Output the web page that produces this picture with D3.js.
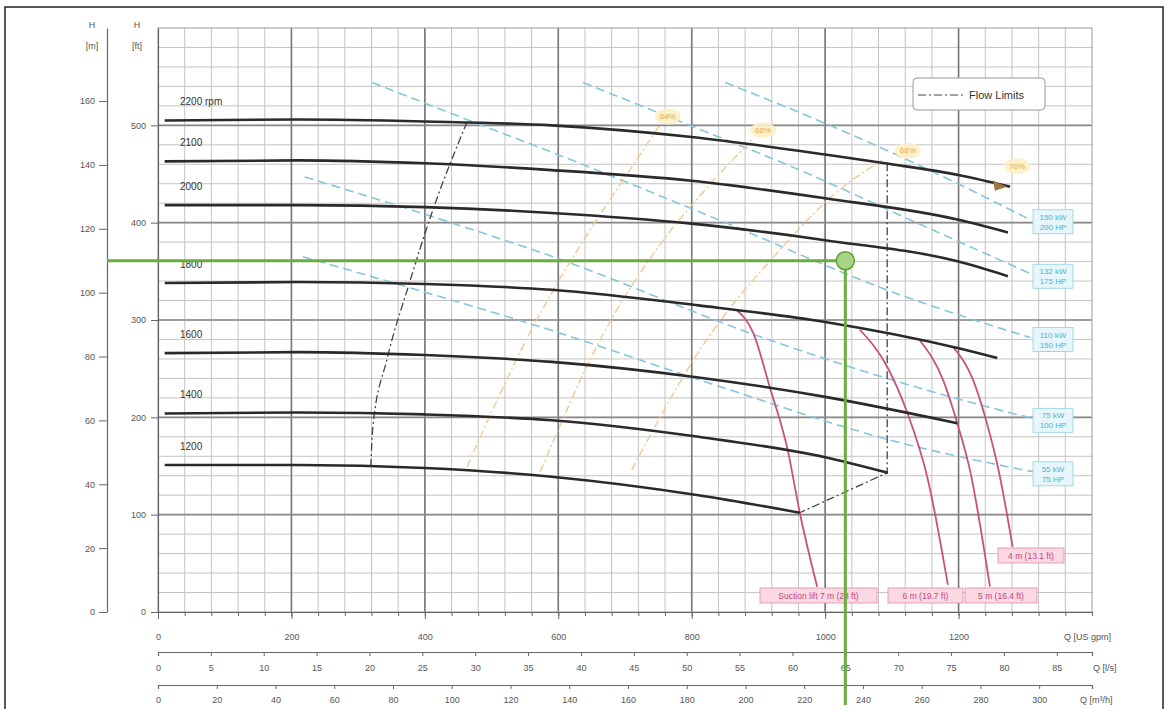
<!doctype html>
<html>
<head>
<meta charset="utf-8">
<title>Pump curves</title>
<script src="https://cdnjs.cloudflare.com/ajax/libs/d3/7.8.5/d3.min.js"></script>
<style>
  body { margin: 0; background: #fff; }
  svg { font-family: "Liberation Sans", Arial, sans-serif; }
  .tick text { fill: #555; font-size: 9px; }
</style>
</head>
<body>
<div id="chart"></div>
<script>
// ---- data (Q in US gpm, H in ft) ----
const speedLabels = ["2200 rpm", "2100", "2000", "1800", "1600", "1400", "1200"];
const curve2200 = [[10,505],[210,506],[400,504],[590,500],[800,488],[1000,470],[1090,461],[1200,449],[1277,437]];
const curve2100 = [[10,463],[210,464],[400,461],[590,454],[800,443],[1000,425],[1200,403],[1274,390]];
const curve2000 = [[10,418],[210,418],[400,416],[590,410],[800,399],[1000,382],[1200,360],[1274,345]];
const curve1800 = [[10,338],[210,339],[400,337],[590,331],[810,315],[1000,298],[1200,271],[1258,261]];
const curve1600 = [[10,266],[210,267],[400,264],[590,257],[810,241],[1000,221],[1198,194]];
const curve1400 = [[10,204],[210,205],[400,203],[590,197],[810,180],[1000,159],[1094,143]];
const curve1200 = [[10,151],[210,151],[400,148],[590,139],[810,120],[962,102]];

// suction lift (NPSH) curves
const liftLabels = ["Suction lift 7 m (23 ft)", "6 m (19.7 ft)", "5 m (16.4 ft)", "4 m (13.1 ft)"];
const lift7 = [[868,310],[892,287],[917,231],[944,166],[962,102],[988,26]];
const lift6 = [[1052,290],[1093,252],[1123,205],[1153,139],[1184,28]];
const lift5 = [[1142,279],[1177,238],[1198,194],[1217,146],[1247,26]];
const lift4 = [[1192,272],[1222,238],[1240,200],[1262,139],[1281,67]];

// motor power lines
const powerLabels = [["150 kW","200 HP"],["132 kW","175 HP"],["110 kW","150 HP"],["75 kW","100 HP"],["55 kW","75 HP"]];
const power1 = [[850,544],[962,513],[1090,475],[1202,439],[1307,403]];
const power2 = [[637,544],[797,500],[962,454],[1127,403],[1310,347]];
const power3 = [[321,544],[463,506],[588,473],[812,411],[1112,326],[1307,282]];
const power4 = [[220,447],[412,406],[588,366],[902,283],[1162,226],[1310,199]];
const power5 = [[217,365],[388,331],[573,293],[827,235],[1112,174],[1312,144]];

// efficiency lines
const effLabels = ["64%", "66%", "68%", "70%"];
const effLabelPos = [[764,509],[907,495],[1124,474],[1288,458]];
const eff1 = [[463,149],[562,293],[648,393],[707,454],[752,500]];
const eff2 = [[573,144],[663,280],[752,377],[827,439],[890,485]];
const eff3 = [[710,146],[812,269],[932,372],[1022,434],[1085,464]];
const bepPoint = [1262,438];

// flow limits
const minFlow = [[319,149],[322,190],[343,259],[375,334],[412,413],[463,503]];
const maxFlow = [[1093,461],[1093,143],[962,102]];

// duty point (l/s, m)
const dutyQls = 65, dutyHm = 110;

// axis ticks
const gpmTicks = [0,200,400,600,800,1000,1200];
const lsTicks = d3.range(0, 86, 5);
const m3hTicks = d3.range(0, 301, 20);
const ftTicks = [0,100,200,300,400,500];
const mTicks = [0,20,40,60,80,100,120,140,160];

// ---- chart ----
const W = 1168, H = 709;
const svg = d3.select('#chart').append('svg').attr('width', W).attr('height', H);

const GPM_LS = 15.8503, GPM_M3H = 4.40287, FT_M = 0.3048;
const x = d3.scaleLinear().domain([0, 1400]).range([158, 1092]);
const y = d3.scaleLinear().domain([0, 600]).range([612, 28]);
const yM = d3.scaleLinear().domain([0, 600 * FT_M]).range([612, 28]);
const xLs = d3.scaleLinear().domain([0, 1400 / GPM_LS]).range([158, 1092]);
const xM3 = d3.scaleLinear().domain([0, 1400 / GPM_M3H]).range([158, 1092]);

// outer frame
svg.append('rect').attr('x', 5).attr('y', 7).attr('width', W - 10).attr('height', H)
  .attr('fill', 'none').attr('stroke', '#222').attr('stroke-width', 1.5);

// grid
const grid = svg.append('g');
grid.selectAll('.vmin').data(d3.range(40, 1400, 40)).join('line')
  .attr('x1', d => x(d)).attr('x2', d => x(d)).attr('y1', y(0)).attr('y2', y(600))
  .attr('stroke', '#c4c4c4').attr('stroke-width', 1);
grid.selectAll('.hmin').data(d3.range(20, 600, 20)).join('line')
  .attr('x1', x(0)).attr('x2', x(1400)).attr('y1', d => y(d)).attr('y2', d => y(d))
  .attr('stroke', '#c4c4c4').attr('stroke-width', 1);
grid.selectAll('.vmaj').data(d3.range(200, 1400, 200)).join('line')
  .attr('x1', d => x(d)).attr('x2', d => x(d)).attr('y1', y(0)).attr('y2', y(600))
  .attr('stroke', '#777').attr('stroke-width', 1.6);
grid.selectAll('.hmaj').data(d3.range(100, 600, 100)).join('line')
  .attr('x1', x(0)).attr('x2', x(1400)).attr('y1', d => y(d)).attr('y2', d => y(d))
  .attr('stroke', '#888').attr('stroke-width', 1.6);
grid.append('rect').attr('x', x(0)).attr('y', y(600)).attr('width', x(1400) - x(0)).attr('height', y(0) - y(600))
  .attr('fill', 'none').attr('stroke', '#999').attr('stroke-width', 1);

// axes
function styleAxis(g) {
  g.selectAll('path.domain').attr('stroke', '#666').attr('stroke-width', 1.2);
  g.selectAll('.tick line').attr('stroke', '#666');
}
svg.append('g').attr('transform', `translate(${x(0)},0)`)
  .call(d3.axisLeft(y).tickValues(ftTicks).tickSize(7).tickPadding(5).tickSizeOuter(0)).call(styleAxis);
svg.append('g').attr('transform', 'translate(107,0)')
  .call(d3.axisLeft(yM).tickValues(mTicks).tickSize(8).tickPadding(4).tickSizeOuter(0)).call(styleAxis);

svg.append('g').attr('transform', `translate(0,${y(0)})`)
  .call(d3.axisBottom(x).tickValues(d3.range(0, 1401, 40)).tickSize(4).tickFormat('').tickSizeOuter(0)).call(styleAxis);
svg.append('g').attr('transform', `translate(0,${y(0)})`)
  .call(d3.axisBottom(x).tickValues(gpmTicks).tickFormat(d3.format('d')).tickSize(7).tickPadding(15).tickSizeOuter(0)).call(styleAxis);
svg.append('g').attr('transform', 'translate(0,652)')
  .call(d3.axisBottom(xLs).tickValues(lsTicks).tickFormat(d3.format('d')).tickSize(4).tickPadding(9).tickSizeOuter(4)).call(styleAxis);
svg.append('g').attr('transform', 'translate(0,685)')
  .call(d3.axisBottom(xM3).tickValues(m3hTicks).tickFormat(d3.format('d')).tickSize(4).tickPadding(8).tickSizeOuter(4)).call(styleAxis);

// axis titles
const ttl = svg.append('g').attr('font-size', 9).attr('text-anchor', 'middle');
ttl.append('text').attr('x', 92).attr('y', 28).attr('fill', '#555').text('H');
ttl.append('text').attr('x', 92).attr('y', 49).attr('fill', '#555').text('[m]');
ttl.append('text').attr('x', 137).attr('y', 28).attr('fill', '#555').text('H');
ttl.append('text').attr('x', 137).attr('y', 49).attr('fill', '#555').text('[ft]');
const ttlR = svg.append('g').attr('font-size', 9);
ttlR.append('text').attr('x', 1064).attr('y', 640).attr('fill', '#555').text('Q [US gpm]');
ttlR.append('text').attr('x', 1093).attr('y', 671).attr('fill', '#555').text('Q [l/s]');
ttlR.append('text').attr('x', 1080).attr('y', 703).attr('fill', '#555').text('Q [m³/h]');

const line = d3.line().x(d => x(d[0])).y(d => y(d[1])).curve(d3.curveMonotoneX);

// power lines
const powerLines = [power1, power2, power3, power4, power5];
svg.append('g').selectAll('path').data(powerLines).join('path')
  .attr('d', line).attr('fill', 'none').attr('stroke', '#86c6d8').attr('stroke-width', 1.6)
  .attr('stroke-dasharray', '9,5');

// efficiency lines
svg.append('g').selectAll('path').data([eff1, eff2, eff3]).join('path')
  .attr('d', line).attr('fill', 'none').attr('stroke', '#f3c98f').attr('stroke-width', 1.4)
  .attr('stroke-dasharray', '8,3,2,3');

// flow limits
svg.append('path').datum(minFlow).attr('d', line).attr('fill', 'none')
  .attr('stroke', '#444').attr('stroke-width', 1.3).attr('stroke-dasharray', '8,3,2,3');
svg.append('path').datum(maxFlow).attr('d', d3.line().x(d => x(d[0])).y(d => y(d[1])))
  .attr('fill', 'none').attr('stroke', '#444').attr('stroke-width', 1.3).attr('stroke-dasharray', '8,3,2,3');

// suction lift curves
svg.append('g').selectAll('path').data([lift7, lift6, lift5, lift4]).join('path')
  .attr('d', line).attr('fill', 'none').attr('stroke', '#c8527e').attr('stroke-width', 1.8);

// speed curves
const speedCurves = [curve2200, curve2100, curve2000, curve1800, curve1600, curve1400, curve1200];
svg.append('g').selectAll('path').data(speedCurves).join('path')
  .attr('d', line).attr('fill', 'none').attr('stroke', '#2a2a2a').attr('stroke-width', 2.6);
svg.append('g').selectAll('text').data(speedLabels).join('text')
  .attr('x', 180).attr('y', (d, i) => y(speedCurves[i][0][1]) - 15)
  .attr('fill', '#333').attr('font-size', 10).text(d => d);

// BEP arrow
const bx = x(bepPoint[0]), by = y(bepPoint[1]);
svg.append('path').attr('d', `M${bx - 7},${by - 5} L${bx + 7},${by + 1} L${bx - 5},${by + 5} Z`)
  .attr('fill', '#9a7a3e');

// efficiency labels
const eff = svg.append('g').selectAll('g').data(effLabels).join('g')
  .attr('transform', (d, i) => `translate(${x(effLabelPos[i][0])},${y(effLabelPos[i][1])})`);
eff.append('ellipse').attr('rx', 13).attr('ry', 8).attr('fill', '#fdf0c8').attr('opacity', 0.9);
eff.append('text').attr('text-anchor', 'middle').attr('dy', '0.35em').attr('font-size', 8)
  .attr('fill', '#e6a84a').text(d => d);

// power labels
const pEnds = powerLines.map(p => p[p.length - 1]);
const pl = svg.append('g').selectAll('g').data(powerLabels).join('g')
  .attr('transform', (d, i) => `translate(1053,${y(pEnds[i][1]) + 2})`);
pl.append('rect').attr('x', -20).attr('y', -12).attr('width', 40).attr('height', 24)
  .attr('fill', '#e6f6fa').attr('stroke', '#8fd2e2').attr('stroke-width', 0.8);
pl.append('text').attr('text-anchor', 'middle').attr('y', -2).attr('font-size', 8)
  .attr('fill', '#4fb3cc').text(d => d[0]);
pl.append('text').attr('text-anchor', 'middle').attr('y', 8).attr('font-size', 8)
  .attr('fill', '#4fb3cc').text(d => d[1]);

// suction lift labels
const liftBoxes = [[760, 588, 117], [888, 588, 75], [965, 588, 72], [998, 548, 66]];
const lb = svg.append('g').selectAll('g').data(liftLabels).join('g')
  .attr('transform', (d, i) => `translate(${liftBoxes[i][0]},${liftBoxes[i][1]})`);
lb.append('rect').attr('width', (d, i) => liftBoxes[i][2]).attr('height', 15)
  .attr('fill', '#fbd9e4').attr('stroke', '#e48aa8').attr('stroke-width', 0.8);
lb.append('text').attr('x', (d, i) => liftBoxes[i][2] / 2).attr('y', 11).attr('text-anchor', 'middle')
  .attr('font-size', 8.5).attr('fill', '#c8477a').text(d => d);

// legend
const lg = svg.append('g').attr('transform', 'translate(913,78)');
lg.append('rect').attr('width', 132).attr('height', 32).attr('rx', 4)
  .attr('fill', '#fff').attr('stroke', '#999');
lg.append('line').attr('x1', 5).attr('x2', 50).attr('y1', 17).attr('y2', 17)
  .attr('stroke', '#444').attr('stroke-width', 1.2).attr('stroke-dasharray', '8,3,2,3');
lg.append('text').attr('x', 56).attr('y', 21).attr('font-size', 11).attr('fill', '#333').text('Flow Limits');

// duty point overlay
const dx = xLs(dutyQls), dy = yM(dutyHm);
svg.append('line').attr('x1', 107).attr('x2', dx).attr('y1', dy).attr('y2', dy)
  .attr('stroke', '#6aad3d').attr('stroke-width', 3);
svg.append('line').attr('x1', dx).attr('x2', dx).attr('y1', dy).attr('y2', 705)
  .attr('stroke', '#6aad3d').attr('stroke-width', 3);
svg.append('circle').attr('cx', dx).attr('cy', dy).attr('r', 9)
  .attr('fill', '#a9d487').attr('stroke', '#5e9e34').attr('stroke-width', 1.5);
</script>
</body>
</html>
